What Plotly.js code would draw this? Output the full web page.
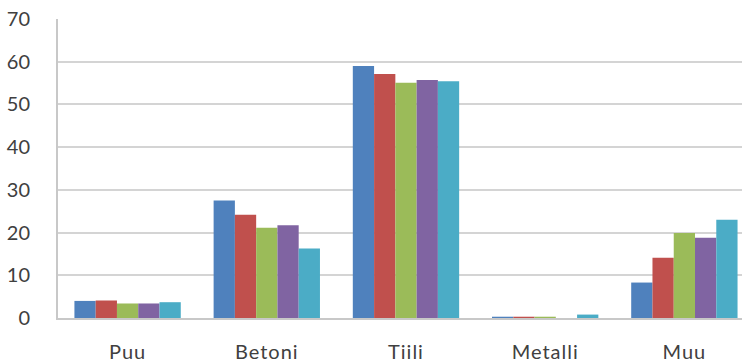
<!DOCTYPE html>
<html>
<head>
<meta charset="utf-8">
<script src="https://cdn.plot.ly/plotly-3.0.1.min.js"></script>
<style>
html,body{margin:0;padding:0;background:#fff;overflow:hidden;}
#chart{width:742px;height:362px;}
.xtick text{letter-spacing:1px;}
</style>
</head>
<body>
<div id="chart"></div>
<script>
var categories = ["Puu", "Betoni", "Tiili", "Metalli", "Muu"];
var series1 = [4.0, 27.5, 59.0, 0.3, 8.3];
var series2 = [4.1, 24.2, 57.1, 0.3, 14.1];
var series3 = [3.4, 21.1, 55.1, 0.3, 19.9];
var series4 = [3.4, 21.7, 55.7, 0.0, 18.8];
var series5 = [3.7, 16.3, 55.4, 0.8, 23.0];
var seriesNames = ["Sarja 1", "Sarja 2", "Sarja 3", "Sarja 4", "Sarja 5"];
var colors = ["#4F81BD", "#C0504D", "#9BBB59", "#8064A2", "#4BACC6"];
var allSeries = [series1, series2, series3, series4, series5];

var traces = allSeries.map(function (vals, i) {
  return {
    type: "bar",
    x: categories,
    y: vals,
    name: seriesNames[i],
    marker: { color: colors[i], line: { width: 0 } },
    hoverinfo: "x+y+name"
  };
});

var layout = {
  width: 742,
  height: 362,
  margin: { l: 58, r: 0, t: 19, b: 44, pad: 0 },
  paper_bgcolor: "#ffffff",
  plot_bgcolor: "#ffffff",
  showlegend: false,
  barmode: "group",
  bargap: 0.236,
  bargroupgap: 0,
  font: { family: "Lato, 'Open Sans', sans-serif", size: 20, color: "#404040" },
  xaxis: {
    type: "category",
    range: [-0.5, 4.414],
    showgrid: false,
    showline: true,
    linecolor: "#c8c8c8",
    linewidth: 2,
    ticks: "",
    ticklabelstandoff: 15,
    tickfont: { size: 20, color: "#404040" },
    fixedrange: true
  },
  yaxis: {
    range: [0, 70],
    dtick: 10,
    tick0: 0,
    showgrid: true,
    gridcolor: "#d4d4d4",
    gridwidth: 2,
    zeroline: false,
    showline: true,
    linecolor: "#c8c8c8",
    linewidth: 2,
    ticks: "",
    ticklabelstandoff: 22,
    tickfont: { size: 20, color: "#404040" },
    fixedrange: true
  }
};

Plotly.newPlot("chart", traces, layout, { displayModeBar: false, staticPlot: true });
</script>
</body>
</html>
